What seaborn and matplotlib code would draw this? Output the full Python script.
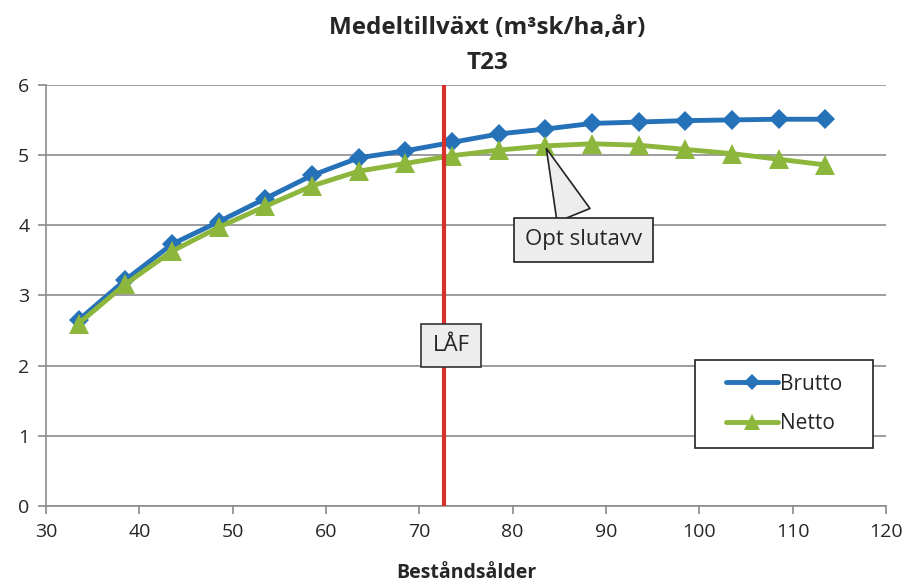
import matplotlib
matplotlib.use("Agg")
import matplotlib.pyplot as plt
from matplotlib.patches import Rectangle
import seaborn as sns
import pandas as pd

ages = [33.5, 38.5, 43.5, 48.5, 53.5, 58.5, 63.5, 68.5, 73.5, 78.5, 83.5,
        88.5, 93.5, 98.5, 103.5, 108.5, 113.5]
brutto = [2.65, 3.22, 3.73, 4.05, 4.38, 4.71, 4.96, 5.06, 5.18, 5.30, 5.37,
          5.45, 5.47, 5.49, 5.50, 5.51, 5.51]
netto = [2.60, 3.16, 3.63, 3.97, 4.27, 4.56, 4.77, 4.88, 4.99, 5.07, 5.13,
         5.16, 5.14, 5.08, 5.02, 4.94, 4.86]
laf_age = 72.6
opt_age = 83.5
opt_value = 5.13

sns.set_theme(style="white")
plt.rcParams['font.family'] = ['Open Sans', 'DejaVu Sans']

fig = plt.figure(figsize=(9.08, 5.85), dpi=100)
ax = fig.add_axes([0.0507, 0.135, 0.925, 0.720])

df = pd.DataFrame({"Beståndsålder": ages + ages,
                   "Värde": brutto + netto,
                   "Serie": ["Brutto"] * len(ages) + ["Netto"] * len(ages)})

blue = "#2672B8"
green = "#8DB63C"
sns.lineplot(data=df, x="Beståndsålder", y="Värde", hue="Serie", style="Serie",
             palette={"Brutto": blue, "Netto": green},
             markers={"Brutto": "D", "Netto": "^"}, dashes=False,
             linewidth=3.5, markeredgewidth=0, ax=ax, legend=True)
for line in ax.lines:
    if line.get_marker() == "D":
        line.set_markersize(10)
    elif line.get_marker() == "^":
        line.set_markersize(14)

ax.set_xlim(30, 120)
ax.set_ylim(0, 6)
ax.set_xticks(range(30, 121, 10))
ax.set_yticks(range(0, 7))
ax.yaxis.grid(True, color="#8c8c8c", linewidth=1.2)
ax.set_axisbelow(True)
for s in ["top", "right"]:
    ax.spines[s].set_visible(False)
for s in ["left", "bottom"]:
    ax.spines[s].set_color("#8c8c8c")
    ax.spines[s].set_linewidth(1.2)
ax.tick_params(axis="x", which="major", direction="out", length=6, color="#8c8c8c",
               labelsize=14, pad=6, bottom=True)
ax.tick_params(axis="y", which="major", direction="out", length=6, color="#8c8c8c",
               labelsize=14, pad=6, left=True)

ax.axvline(laf_age, color="#D8302A", linewidth=3, zorder=5)

ax.set_xlabel("Beståndsålder", fontsize=14, fontweight="bold", labelpad=16)
ax.set_ylabel("")
fig.text(0.537, 0.952, "Medeltillväxt (m³sk/ha,år)", ha="center", va="center",
         fontsize=17.5, fontweight="bold")
fig.text(0.537, 0.893, "T23", ha="center", va="center", fontsize=17.5, fontweight="bold")

ax.text(laf_age + 0.8, 2.29, "LÅF", ha="center", va="center", fontsize=16, zorder=6,
        bbox=dict(boxstyle="square,pad=0.5", facecolor="#EDEDED", edgecolor="#333333",
                  linewidth=1.2))

ax.annotate("Opt slutavv", xy=(opt_age, opt_value), xytext=(87.6, 3.79),
            ha="center", va="center", fontsize=16, zorder=6,
            bbox=dict(boxstyle="square,pad=0.5", facecolor="#EDEDED", edgecolor="#222222",
                      linewidth=1.2),
            arrowprops=dict(arrowstyle="wedge,tail_width=1.6", facecolor="#EDEDED",
                            edgecolor="#222222", linewidth=1.2))

frame = Rectangle((0.7726, 0.1378), 0.2119, 0.209, transform=ax.transAxes,
                  facecolor="white", edgecolor="#222222", linewidth=1.2, zorder=6)
ax.add_patch(frame)
leg = ax.legend(loc="center", bbox_to_anchor=(0.879, 0.242), fontsize=15,
                frameon=False, borderpad=0.6, markerscale=0.8,
                labelspacing=0.9, handlelength=2.5, handletextpad=0.1,
                borderaxespad=0)
leg.set_zorder(7)

fig.savefig("out.png", dpi=100)
